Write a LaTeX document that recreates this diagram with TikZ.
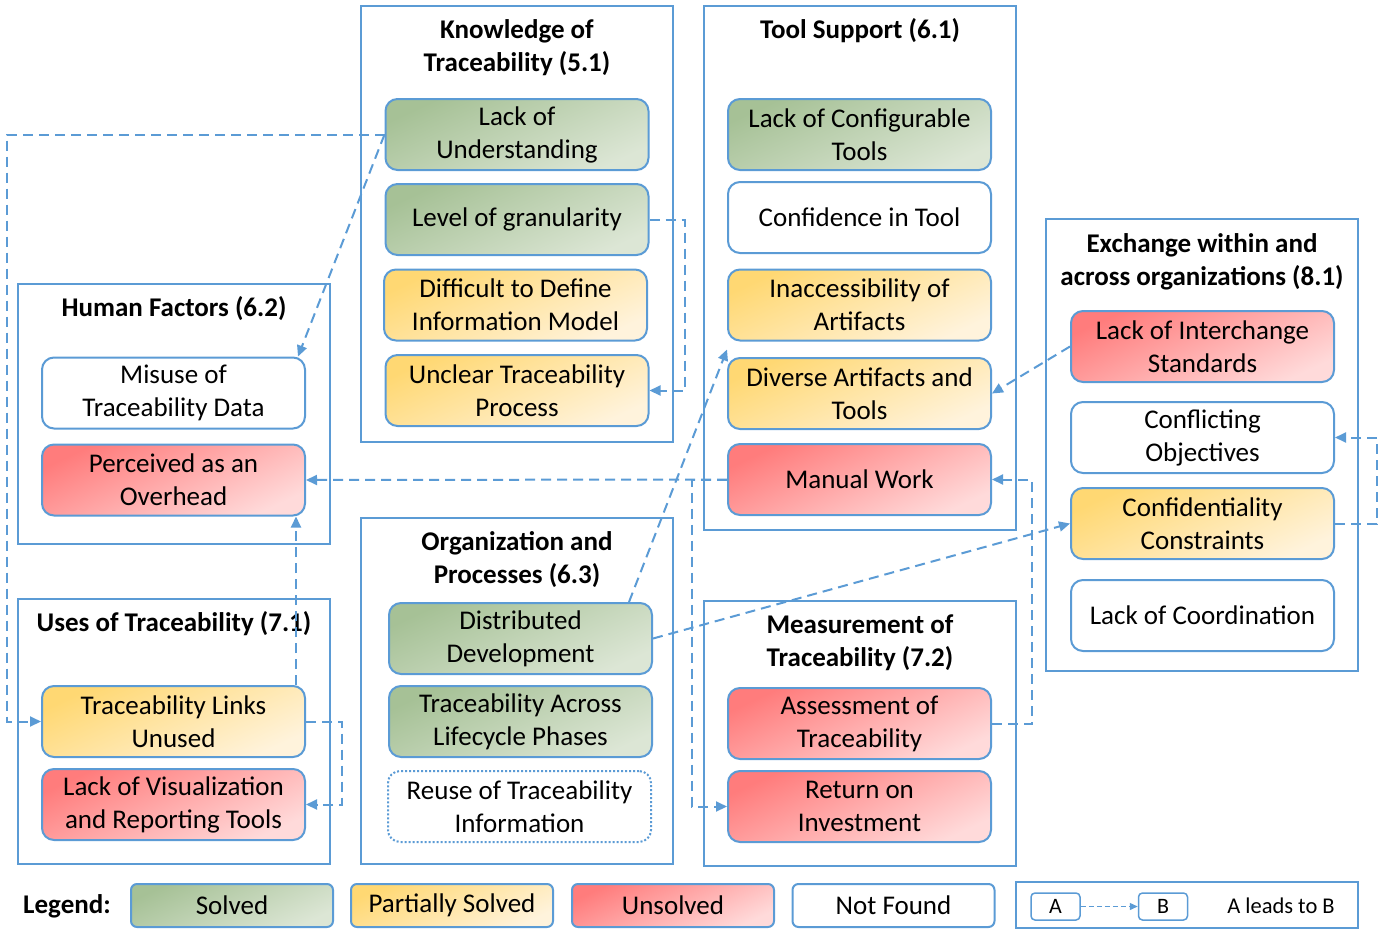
\documentclass[tikz,border=0pt]{standalone}
\usepackage{fontspec}
\setmainfont{Carlito}
\usetikzlibrary{arrows.meta, calc, positioning}
\definecolor{edgeblue}{HTML}{5B9BD5}
\definecolor{solvedA}{HTML}{A6C196}
\definecolor{solvedB}{HTML}{DCE6D5}
\definecolor{partA}{HTML}{FFD873}
\definecolor{partB}{HTML}{FFF3DC}
\definecolor{unsolA}{HTML}{FF7C7C}
\definecolor{unsolB}{HTML}{FFDADA}

\begin{document}
\begin{tikzpicture}[x=1pt, y=-1pt, >={Triangle[length=11pt,width=10pt]},
  font=\fontsize{27}{33}\selectfont,
  group/.style={draw=edgeblue, line width=2pt, minimum width=312pt, inner sep=0pt},
  grouptitle/.style={font=\fontsize{27}{33}\selectfont\bfseries, align=center},
  issue/.style={draw=edgeblue, line width=2pt, rounded corners=12pt, minimum width=263pt, minimum height=71pt, align=center, inner sep=2pt},
  solved/.style={issue, top color=solvedA, bottom color=solvedB, shading angle=25},
  partial/.style={issue, top color=partA, bottom color=partB, shading angle=25},
  unsolved/.style={issue, top color=unsolA, bottom color=unsolB, shading angle=25},
  notfound/.style={issue, fill=white},
  link/.style={edgeblue, line width=2pt, dash pattern=on 10pt off 6pt, ->},
]
\useasboundingbox (0,0) rectangle (1387,929);

% group frames
\node[group, minimum height=436pt] (knowbox) at (517,224) {};
\node[group, minimum height=524pt] (toolbox) at (860,268) {};
\node[group, minimum height=452pt] (exchbox) at (1202,445) {};
\node[group, minimum height=260pt] (humanbox) at (174,414) {};
\node[group, minimum height=265pt] (usesbox) at (174,731.5) {};
\node[group, minimum height=346pt] (orgbox) at (517,691) {};
\node[group, minimum height=265pt] (measbox) at (860,733.5) {};

\node[grouptitle] (knowtitle) at (517,47.5) {Knowledge of\\Traceability (5.1)};
\node[grouptitle] (tooltitle) at (860,31) {Tool Support (6.1)};
\node[grouptitle] (exchtitle) at (1202,261.5) {Exchange within and\\across organizations (8.1)};
\node[grouptitle] (humantitle) at (174,309) {Human Factors (6.2)};
\node[grouptitle] (usestitle) at (174,624) {Uses of Traceability (7.1)};
\node[grouptitle] (orgtitle) at (517,559.5) {Organization and\\Processes (6.3)};
\node[grouptitle] (meastitle) at (860,642.5) {Measurement of\\Traceability (7.2)};

% challenges
\node[solved] (underst) at (517,134.5) {Lack of\\Understanding};
\node[solved] (granul) at (517,219.5) {Level of granularity};
\node[partial] (infomodel) at (515.5,305) {Difficult to Define\\Information Model};
\node[partial] (unclear) at (517,390.5) {Unclear Traceability\\Process};

\node[solved] (config) at (859.5,134.5) {Lack of Configurable\\Tools};
\node[notfound] (confid) at (859.5,217.5) {Confidence in Tool};
\node[partial] (inacc) at (859.5,305) {Inaccessibility of\\Artifacts};
\node[partial] (diverse) at (859.5,393.5) {Diverse Artifacts and\\Tools};
\node[unsolved] (manual) at (859.5,479.5) {Manual Work};

\node[unsolved] (interch) at (1202.5,346.5) {Lack of Interchange\\Standards};
\node[notfound] (conflict) at (1202.5,437.5) {Conflicting\\Objectives};
\node[partial] (confidl) at (1202.5,523.5) {Confidentiality\\Constraints};
\node[notfound] (coord) at (1202.5,615.5) {Lack of Coordination};

\node[notfound] (misuse) at (173.5,393) {Misuse of\\Traceability Data};
\node[unsolved] (overhead) at (173.5,480) {Perceived as an\\Overhead};

\node[partial] (unused) at (173.5,721.5) {Traceability Links\\Unused};
\node[unsolved] (visual) at (173.5,804.5) {Lack of Visualization\\and Reporting Tools};

\node[solved] (distrib) at (520.5,638.5) {Distributed\\Development};
\node[solved] (lifecyc) at (520.5,721.5) {Traceability Across\\Lifecycle Phases};
\node[notfound, dotted] (reuse) at (519.5,806.5) {Reuse of Traceability\\Information};

\node[unsolved] (assess) at (859.5,723.5) {Assessment of\\Traceability};
\node[unsolved] (roi) at (859.5,806.5) {Return on\\Investment};

% legend
\node[font=\fontsize{27}{33}\selectfont\bfseries] (legend) at (67,906) {Legend:};
\node[solved, minimum width=202pt, minimum height=43pt, rounded corners=6pt] (lgsolved) at (232,905.5) {Solved};
\node[partial, minimum width=202pt, minimum height=43pt, rounded corners=6pt] (lgpartial) at (452,905.5) {Partially Solved};
\node[unsolved, minimum width=202pt, minimum height=43pt, rounded corners=6pt] (lgunsolved) at (673,905.5) {Unsolved};
\node[notfound, minimum width=202pt, minimum height=43pt, rounded corners=6pt] (lgnotfound) at (893.5,905.5) {Not Found};
\node[draw=edgeblue, line width=2pt, minimum width=342pt, minimum height=46pt] (lgframe) at (1187,905) {};
\node[draw=edgeblue, line width=1.5pt, rounded corners=4pt, minimum width=49pt, minimum height=27pt, font=\fontsize{22}{26}\selectfont] (lgA) at (1055.5,906.5) {A};
\node[draw=edgeblue, line width=1.5pt, rounded corners=4pt, minimum width=49pt, minimum height=27pt, font=\fontsize{22}{26}\selectfont] (lgB) at (1163,906.5) {B};
\node[font=\fontsize{22.5}{26}\selectfont] (lgtext) at (1281,906) {A leads to B};
\draw[link, line width=1.3pt, dash pattern=on 5pt off 3pt, >={Triangle[length=8pt,width=7pt]}] (lgA) -- (lgB);

% leads-to links
\draw[link] (underst.west) -- ++(-378,0) |- (unused.west);
\draw[link] (underst.west) -- ([xshift=-8pt]misuse.north east);
\draw[link] (granul.east) -- ++(35,0) |- (unclear.east);
\draw[link] (manual.west) -- (overhead.east);
\draw[link] (manual.west) -- ++(-35,0) |- (roi.west);
\draw[link] ([xshift=-10pt]unused.north east) -- ([xshift=-10pt]overhead.south east);
\draw[link] (unused.east) -- ++(36,0) |- (visual.east);
\draw[link] ([xshift=-24pt]distrib.north east) -- ([yshift=-8pt]inacc.south west);
\draw[link] (distrib.east) -- (confidl.west);
\draw[link] (interch.west) -- (diverse.east);
\draw[link] (confidl.east) -- ++(42,0) |- (conflict.east);
\draw[link] (assess.east) -- ++(40,0) |- (manual.east);
\end{tikzpicture}
\end{document}
